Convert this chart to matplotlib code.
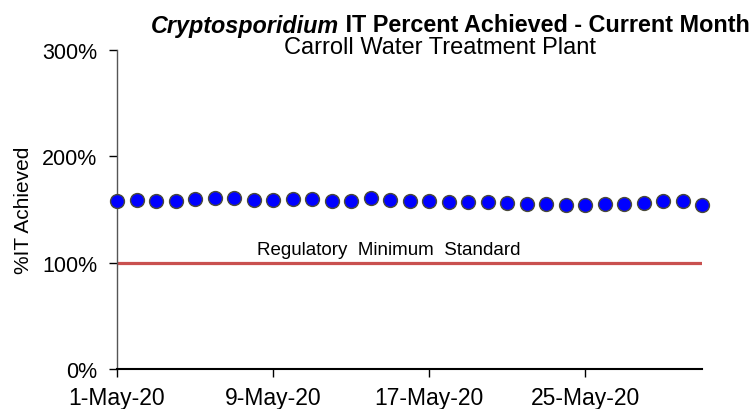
import matplotlib
matplotlib.use("Agg")
import matplotlib.pyplot as plt
import matplotlib.dates as mdates
import pandas as pd
from matplotlib.offsetbox import HPacker, TextArea, AnchoredOffsetbox

dates = pd.date_range("2020-05-01", "2020-05-31", freq="D")
pct_achieved = [158, 159, 158, 158, 160, 161, 161, 159, 159, 160, 160,
                158, 158, 161, 159, 158, 158, 157, 157, 157, 156, 155,
                155, 154, 154, 155, 155, 156, 158, 158, 154]
reg_min = 100
y_ticks = [0, 100, 200, 300]
y_tick_labels = ["0%", "100%", "200%", "300%"]
x_tick_dates = pd.to_datetime(["2020-05-01", "2020-05-09", "2020-05-17", "2020-05-25"])
x_tick_labels = [f"{d.day}-{d:%b-%y}" for d in x_tick_dates]

plt.rcParams['font.family'] = ['Liberation Sans', 'DejaVu Sans']

fig = plt.figure(figsize=(7.52, 4.10), dpi=100)
ax = fig.add_axes([117/752, 1-370/410, (702-117)/752, (370-51)/410])

xd = mdates.date2num(dates)
ax.plot([xd[0], xd[-1]], [reg_min, reg_min], color="#C9504F", lw=2.3, zorder=2)
ax.plot(xd, pct_achieved, linestyle="none", marker="o", markersize=10,
        markerfacecolor="#0000FF", markeredgecolor="#4A4A3A", markeredgewidth=1.0,
        clip_on=False, zorder=3)

ax.set_xlim(xd[0], xd[-1])
ax.set_ylim(0, 300)
ax.set_yticks(y_ticks)
ax.set_yticklabels(y_tick_labels)
ax.set_xticks(mdates.date2num(x_tick_dates))
ax.set_xticklabels(x_tick_labels)
ax.tick_params(axis="both", direction="out", length=6, width=1)
ax.tick_params(axis="x", labelsize=16.5, pad=6)
ax.tick_params(axis="y", labelsize=15.5, pad=8)

for s in ["top", "right"]:
    ax.spines[s].set_visible(False)
ax.spines["left"].set_color("#555555")
ax.spines["left"].set_linewidth(1.0)
ax.spines["bottom"].set_color("#000000")
ax.spines["bottom"].set_linewidth(1.5)

ax.set_ylabel("%IT Achieved", fontsize=15, labelpad=7)

ax.text(mdates.date2num(pd.Timestamp("2020-05-08")) + 0.2, reg_min + 4,
        "Regulatory  Minimum  Standard", fontsize=13.5, ha="left", va="bottom")

ta1 = TextArea("Cryptosporidium", textprops=dict(fontsize=16.8, fontweight="bold", fontstyle="italic"))
ta2 = TextArea(" IT Percent Achieved - Current Month", textprops=dict(fontsize=16.8, fontweight="bold"))
box = HPacker(children=[ta1, ta2], align="baseline", pad=0, sep=0)
ab = AnchoredOffsetbox(loc="center", child=box, pad=0, frameon=False,
                       bbox_to_anchor=(450/752, 1-26/410), bbox_transform=fig.transFigure, borderpad=0)
fig.add_artist(ab)
fig.text(440/752, 1-48/410, "Carroll Water Treatment Plant", fontsize=17, ha="center", va="center")

fig.savefig("out.png", dpi=100)
